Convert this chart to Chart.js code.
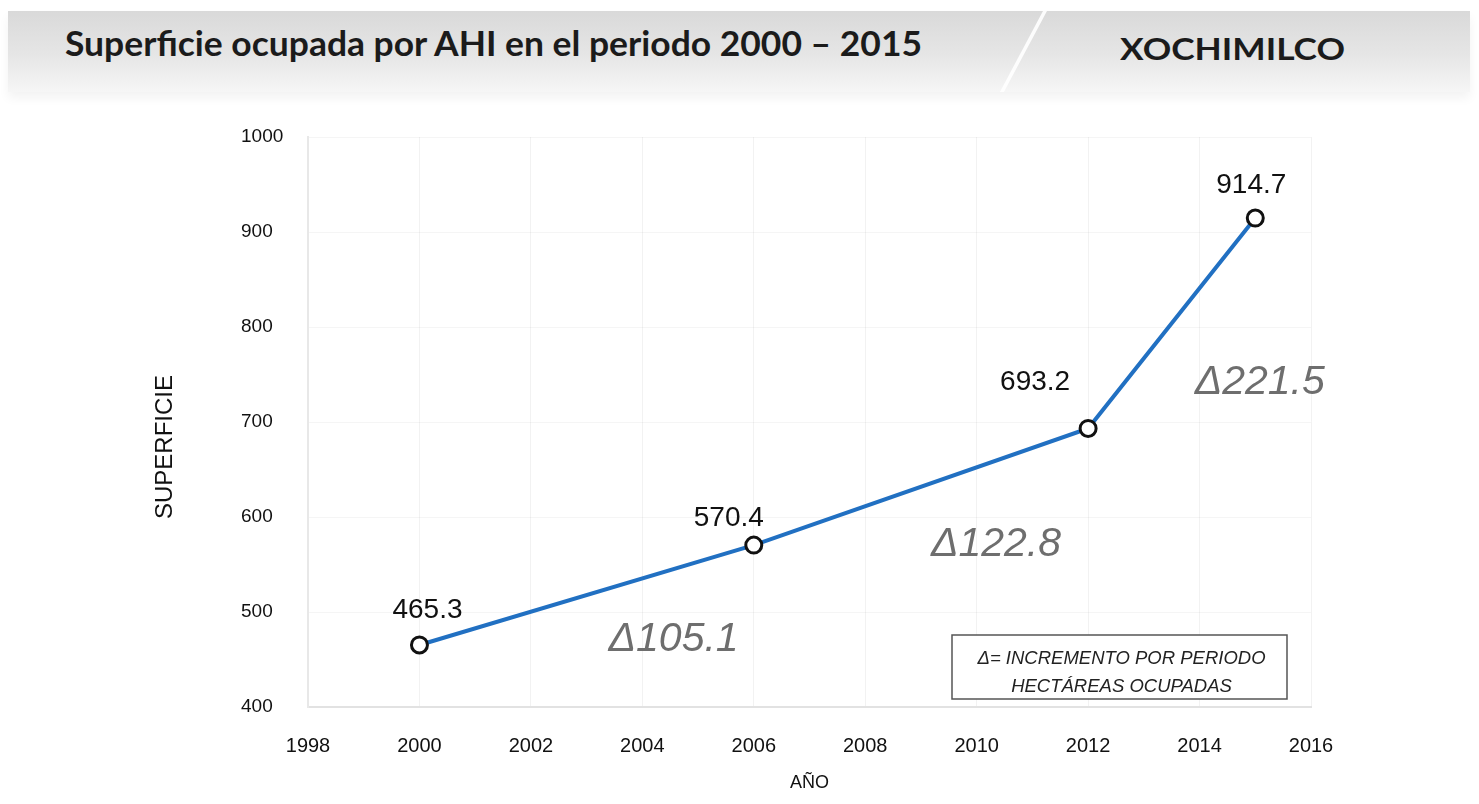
<!DOCTYPE html>
<html>
<head>
<meta charset="utf-8">
<script src="https://cdn.jsdelivr.net/npm/chart.js@4.4.1/dist/chart.umd.min.js"></script>
<style>
    html, body { margin: 0; padding: 0; background: #fff; }
    #wrap { position: relative; width: 1479px; height: 804px; overflow: hidden; }
    #band {
        position: absolute; left: 8px; top: 11px; width: 1462px; height: 81px;
        background: linear-gradient(#d9d9d9, #e6e6e6 55%, #f6f6f6);
        box-shadow: 0 6px 10px rgba(0,0,0,0.05);
    }
    #slash {
        position: absolute; left: 1043px; top: 11px; width: 4px; height: 81px;
        background: #fff; transform: skewX(-28deg); transform-origin: top left; opacity: 0.9;
    }
    .head { position: absolute; font-family: Lato, "Open Sans", sans-serif; font-weight: 700;
            color: #1b1b1b; white-space: nowrap; transform-origin: left top; }
    #title { left: 65px; top: 21px; font-size: 35px; }
    #zona { left: 1120px; top: 29px; font-size: 31px; }
    #chartBox { position: absolute; left: 0; top: 0; width: 1479px; height: 804px; }
</style>
</head>
<body>
<div id="wrap">
    <div id="band"></div>
    <div id="slash"></div>
    <div id="title" class="head">Superficie ocupada por AHI en el periodo 2000 – 2015</div>
    <div id="zona" class="head">XOCHIMILCO</div>
    <div id="chartBox"><canvas id="lineChart" width="1479" height="804"></canvas></div>
</div>

<script>
// ===============================
// Data
// ===============================
const years = [2000, 2006, 2012, 2015];
const superficie = [465.3, 570.4, 693.2, 914.7];
const incrementos = [105.1, 122.8, 221.5];
const xTicks = [1998, 2000, 2002, 2004, 2006, 2008, 2010, 2012, 2014, 2016];
const yTicks = [400, 500, 600, 700, 800, 900, 1000];
const yTitle = 'SUPERFICIE';
const legendLines = ['Δ= INCREMENTO POR PERIODO', 'HECTÁREAS OCUPADAS'];

// fit header text widths
function fitText(id, target) {
    const el = document.getElementById(id);
    const w = el.getBoundingClientRect().width;
    el.style.transform = 'scaleX(' + (target / w) + ')';
}
fitText('title', 857);
fitText('zona', 225);

// ===============================
// Label plugin (values, increments, legend box, y title)
// ===============================
const valueOffsets = [[8, -35], [-25, -27], [-53, -46], [-4, -33]];
const deltaOffsets = [[87, 45], [75, 58], [88, 59]];

const labelsPlugin = {
    id: 'labelsPlugin',
    afterDatasetsDraw(chart) {
        const ctx = chart.ctx;
        const xs = chart.scales.x;
        const ys = chart.scales.y;
        ctx.save();
        ctx.textAlign = 'center';
        ctx.textBaseline = 'middle';

        // y axis title
        ctx.save();
        ctx.translate(165, (ys.top + ys.bottom) / 2 + 25);
        ctx.rotate(-Math.PI / 2);
        ctx.fillStyle = '#111';
        ctx.font = '24px "Liberation Sans", Arial, sans-serif';
        ctx.fillText(yTitle, 0, 0);
        ctx.restore();

        // value labels
        ctx.fillStyle = '#111';
        ctx.font = '28px "Liberation Sans", Arial, sans-serif';
        superficie.forEach((v, i) => {
            const px = xs.getPixelForValue(years[i]);
            const py = ys.getPixelForValue(v);
            ctx.fillText(v.toFixed(1), px + valueOffsets[i][0], py + valueOffsets[i][1]);
        });

        // increments between periods
        ctx.fillStyle = '#6e6e6e';
        ctx.font = 'italic 41px "Liberation Sans", Arial, sans-serif';
        incrementos.forEach((d, i) => {
            const mx = (xs.getPixelForValue(years[i]) + xs.getPixelForValue(years[i + 1])) / 2;
            const my = (ys.getPixelForValue(superficie[i]) + ys.getPixelForValue(superficie[i + 1])) / 2;
            ctx.fillText('Δ' + d.toFixed(1), mx + deltaOffsets[i][0], my + deltaOffsets[i][1]);
        });

        // legend box
        const bx = 952, by = 635, bw = 335, bh = 64;
        ctx.fillStyle = '#fff';
        ctx.fillRect(bx, by, bw, bh);
        ctx.strokeStyle = '#555';
        ctx.lineWidth = 1.5;
        ctx.strokeRect(bx, by, bw, bh);
        ctx.fillStyle = '#222';
        ctx.font = 'italic 18.5px "Liberation Sans", Arial, sans-serif';
        ctx.fillText(legendLines[0], bx + bw / 2 + 2, by + 24);
        ctx.fillText(legendLines[1], bx + bw / 2 + 2, by + 52);
        ctx.restore();
    }
};

// ===============================
// Chart
// ===============================
const ctx = document.getElementById('lineChart').getContext('2d');
new Chart(ctx, {
    type: 'line',
    data: {
        datasets: [{
            label: 'Superficie',
            data: years.map((y, i) => ({ x: y, y: superficie[i] })),
            borderColor: '#2170c2',
            borderWidth: 4,
            backgroundColor: '#fff',
            pointRadius: 8,
            pointBorderWidth: 3,
            pointBorderColor: '#111',
            pointBackgroundColor: '#fff',
            tension: 0
        }]
    },
    options: {
        responsive: false,
        animation: false,
        plugins: { legend: { display: false }, tooltip: { enabled: false } },
        layout: { padding: { top: 137, left: 241, right: 168, bottom: 6 } },
        scales: {
            x: {
                type: 'linear',
                min: 1998, max: 2016,
                afterBuildTicks: (s) => { s.ticks = xTicks.map(v => ({ value: v })); },
                afterFit: (s) => { s.height = 91; },
                ticks: {
                    padding: 27,
                    color: '#111',
                    font: { family: '"Liberation Sans", Arial, sans-serif', size: 20 },
                    callback: (v) => String(v)
                },
                grid: { color: 'rgba(0,0,0,0.05)', drawTicks: false },
                border: { color: '#e2e2e2', width: 2 },
                title: {
                    display: true, text: 'AÑO', color: '#111',
                    font: { family: '"Liberation Sans", Arial, sans-serif', size: 18 }
                }
            },
            y: {
                min: 400, max: 1000,
                afterBuildTicks: (s) => { s.ticks = yTicks.map(v => ({ value: v })); },
                afterFit: (s) => { s.width = 67; },
                ticks: {
                    crossAlign: 'far',
                    color: '#111',
                    font: { family: '"Liberation Sans", Arial, sans-serif', size: 19 },
                    callback: (v) => String(v)
                },
                grid: { color: 'rgba(0,0,0,0.04)', drawTicks: false },
                border: { color: '#e8e8e8', width: 2 }
            }
        }
    },
    plugins: [labelsPlugin]
});
</script>
</body>
</html>
